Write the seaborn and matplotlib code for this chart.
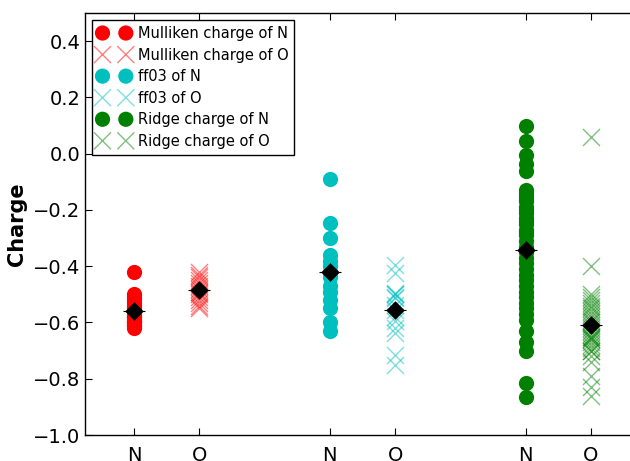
import pandas as pd
import seaborn as sns
import matplotlib.pyplot as plt

# charges
mulliken_n = [-0.42, -0.50, -0.51, -0.52, -0.53, -0.54, -0.55, -0.56, -0.57, -0.58,
              -0.58, -0.59, -0.60, -0.60, -0.61, -0.61, -0.62]
mulliken_o = [-0.42, -0.43, -0.44, -0.45, -0.46, -0.47, -0.48, -0.49, -0.50, -0.51,
              -0.52, -0.53, -0.54, -0.55]
ff03_n = [-0.09, -0.245, -0.30, -0.36, -0.38, -0.40, -0.42, -0.44, -0.47, -0.49,
          -0.52, -0.55, -0.60, -0.63]
ff03_o = [-0.397, -0.423, -0.495, -0.50, -0.50, -0.51, -0.513, -0.537, -0.555, -0.579,
          -0.596, -0.62, -0.638, -0.715, -0.751]
ridge_n = [0.10, 0.045, -0.006, -0.038, -0.062, -0.13, -0.14, -0.15, -0.16, -0.17,
           -0.19, -0.20, -0.21, -0.23, -0.24, -0.25, -0.27, -0.28, -0.29, -0.31,
           -0.33, -0.35, -0.37, -0.39, -0.41, -0.43, -0.45, -0.47, -0.49, -0.51,
           -0.53, -0.55, -0.57, -0.59, -0.632, -0.668, -0.703, -0.816, -0.864]
ridge_o = [0.06, -0.40, -0.50, -0.51, -0.52, -0.53, -0.54, -0.55, -0.56, -0.57,
           -0.58, -0.59, -0.60, -0.61, -0.62, -0.63, -0.64, -0.65, -0.65, -0.66,
           -0.66, -0.67, -0.68, -0.69, -0.70, -0.70, -0.72, -0.74, -0.79, -0.83, -0.86]

positions = [1, 2, 4, 5, 7, 8]
tick_labels = ['N', 'O', 'N', 'O', 'N', 'O']
series = [mulliken_n, mulliken_o, ff03_n, ff03_o, ridge_n, ridge_o]
labels = ['Mulliken charge of N', 'Mulliken charge of O', 'ff03 of N', 'ff03 of O',
          'Ridge charge of N', 'Ridge charge of O']
colors = ['#ff0000', '#ff0000', '#00bfbf', '#00bfbf', '#008000', '#008000']

rows = []
for pos, vals, lab in zip(positions, series, labels):
    for v in vals:
        rows.append({'x': pos, 'charge': v, 'label': lab})
df = pd.DataFrame(rows)
means = df.groupby('x', as_index=False)['charge'].mean()

sns.set_style('ticks', {'xtick.direction': 'in', 'ytick.direction': 'in'})
plt.rcParams['font.family'] = ['DejaVu Sans']
plt.rcParams['text.color'] = 'black'
plt.rcParams['axes.labelcolor'] = 'black'

fig = plt.figure(figsize=(6.3, 4.61), dpi=100)
ax = fig.add_axes([85 / 630, 26 / 461, 555 / 630, 422 / 461])

for i, lab in enumerate(labels):
    sub = df[df['label'] == lab]
    if i % 2 == 0:
        sns.scatterplot(data=sub, x='x', y='charge', ax=ax, color=colors[i], marker='o',
                        s=120, linewidth=0, label=lab)
    else:
        sns.scatterplot(data=sub, x='x', y='charge', ax=ax, color=colors[i], marker='x',
                        s=150, linewidth=1, alpha=0.5, label=lab)

sns.scatterplot(data=means, x='x', y='charge', ax=ax, color='black', marker='_',
                s=260, linewidth=0.8, zorder=5)
sns.scatterplot(data=means, x='x', y='charge', ax=ax, color='black', marker='D',
                s=90, linewidth=0, zorder=6)

ax.set_xlim(0.25, 8.75)
ax.set_ylim(-1.0, 0.5)
ax.set_xticks(positions)
ax.set_xticklabels(tick_labels)
ax.set_yticks([-1.0, -0.8, -0.6, -0.4, -0.2, 0.0, 0.2, 0.4])
ax.tick_params(labelsize=14, top=True, right=True, length=5, width=0.8, colors='black')
ax.tick_params(axis='x', pad=8)
for sp in ax.spines.values():
    sp.set_color('black')
    sp.set_linewidth(1)
ax.set_xlabel('')
ax.set_ylabel('Charge', fontsize=15, fontweight='bold', color='black')

leg = ax.legend(loc='upper left', scatterpoints=2, scatteryoffsets=[0.5], fontsize=10.5,
                fancybox=False, framealpha=1, edgecolor='black', handletextpad=0.5,
                handlelength=2.2, borderpad=0.4, labelspacing=0.45)
leg.get_frame().set_linewidth(1)

fig.savefig('out.png', dpi=100)
